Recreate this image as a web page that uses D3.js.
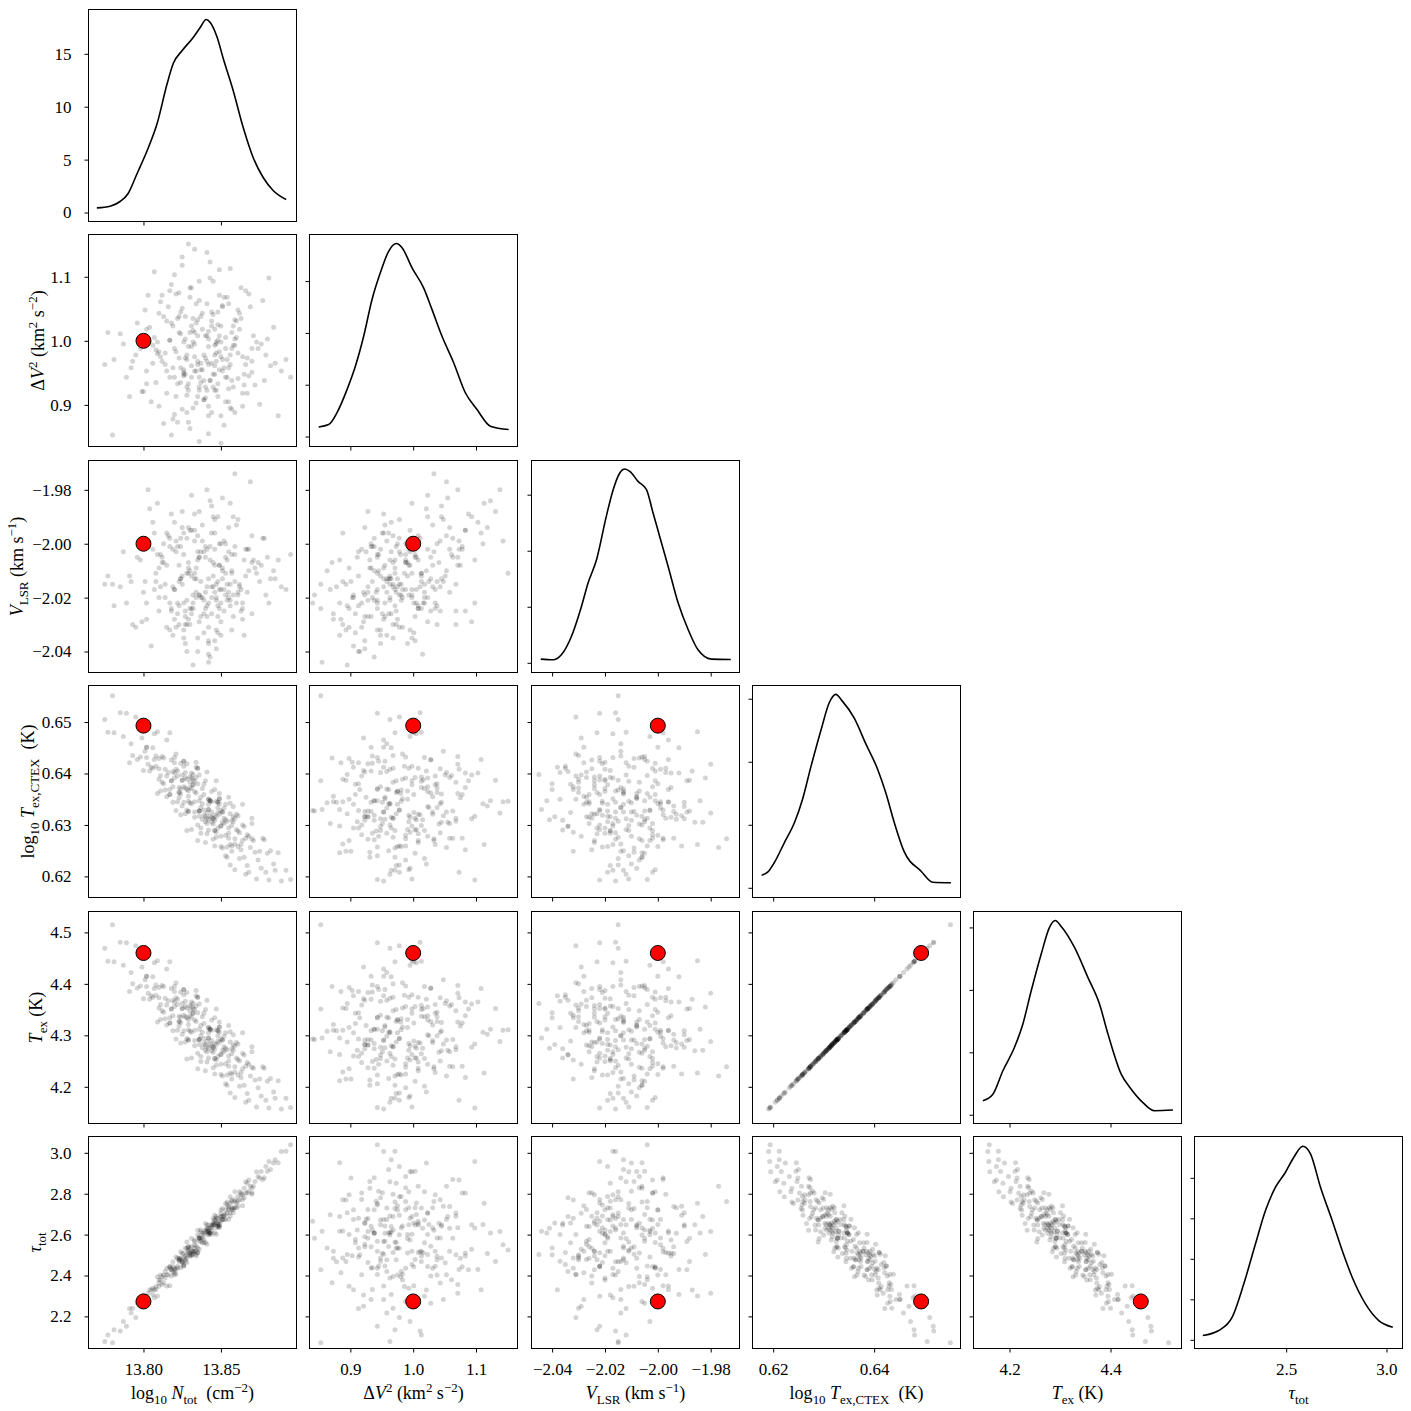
<!DOCTYPE html>
<html>
<head>
<meta charset="utf-8">
<script src="https://cdn.jsdelivr.net/npm/d3@7"></script>
<style>
  body { margin: 0; background: #fff; }
  svg text { font-family: "Liberation Serif", "DejaVu Serif", serif; fill: #000; white-space: pre; }
</style>
</head>
<body>
<svg id="chart" width="1411" height="1411"></svg>
<script>
// parameter order: log10 Ntot, dV^2, VLSR, log10 Tex, Tex, tau
const truths = [13.80, 1.0, -2.00, 0.6493, 4.46, 2.273];

const axisRanges = [
  [13.7645, 13.8988], [0.835, 1.166], [-2.0478, -1.9691],
  [0.6159, 0.6571], [4.1287, 4.5406], [2.0429, 3.0798]
];
const xTickValues = [[13.80, 13.85], [0.9, 1.0, 1.1], [-2.04, -2.02, -2.00, -1.98], [0.62, 0.64], [4.2, 4.4], [2.5, 3.0]];
const yTickValues = [null, [0.9, 1.0, 1.1], [-2.04, -2.02, -2.00, -1.98], [0.62, 0.63, 0.64, 0.65], [4.2, 4.3, 4.4, 4.5], [2.2, 2.4, 2.6, 2.8, 3.0]];
const tickFormats = [".2f", ".1f", ".2f", ".2f", ".1f", ".1f"];

// density axes of the diagonal panels
const densityRanges = [[-0.85, 19.19], [-0.386, 7.80], [-1.73, 36.1], [-3.08, 64.2], [-0.28, 6.51], [-0.107, 2.51]];
const densityTicks = [[0, 5, 10, 15], [0, 2, 4, 6], [0, 10, 20, 30], [0, 20, 40, 60], [0, 2, 4, 6], [0, 0.5, 1, 1.5, 2]];

// KDE curves: [value, density]
const kdeLogN = [[13.7699,0.44],[13.7785,0.60],[13.7849,1.04],[13.7901,1.80],[13.7959,3.69],[13.8024,5.86],[13.8088,8.41],[13.8153,12.19],[13.8192,14.08],[13.8250,15.31],[13.8321,16.54],[13.8366,17.49],[13.8405,18.24],[13.8431,17.96],[13.8476,16.54],[13.8515,14.56],[13.8579,11.53],[13.8644,8.03],[13.8708,5.20],[13.8773,3.31],[13.8837,2.08],[13.8921,1.23]];
const kdeDV2 = [[0.8496,0.37],[0.8655,0.46],[0.8788,0.92],[0.8947,1.81],[0.9080,2.71],[0.9212,3.87],[0.9345,5.29],[0.9477,6.32],[0.9609,7.15],[0.9732,7.45],[0.9823,7.29],[0.9982,6.51],[1.0166,5.74],[1.0300,4.90],[1.0459,3.87],[1.0644,2.85],[1.0830,1.69],[1.1016,1.04],[1.1228,0.40],[1.1519,0.27]];
const kdeVlsr = [[-2.0443,0.66],[-2.0396,0.54],[-2.0365,1.43],[-2.0327,4.70],[-2.0289,10.05],[-2.0264,14.23],[-2.0232,18.39],[-2.0195,26.13],[-2.0169,30.89],[-2.0144,33.88],[-2.0125,34.59],[-2.0106,34.16],[-2.0075,32.38],[-2.0043,30.89],[-2.0018,26.73],[-1.9993,22.55],[-1.9961,17.20],[-1.9923,10.66],[-1.9885,5.89],[-1.9848,2.32],[-1.9797,0.66],[-1.9724,0.59]];
const kdeLogTex = [[0.6177,4.0],[0.6189,4.95],[0.6202,7.94],[0.6222,14.29],[0.6242,20.63],[0.6258,28.03],[0.6275,38.60],[0.6295,50.25],[0.6311,58.73],[0.6324,61.37],[0.6337,59.24],[0.6360,53.97],[0.6384,45.49],[0.6407,37.56],[0.6423,30.16],[0.6440,20.63],[0.6459,11.62],[0.6493,5.27],[0.6516,1.78],[0.6552,1.59]];
const kdeTex = [[4.1473,0.45],[4.1671,0.66],[4.1869,1.41],[4.2099,2.16],[4.2265,2.91],[4.2430,3.97],[4.2628,5.15],[4.2792,6.00],[4.2905,6.22],[4.3024,6.03],[4.3287,5.36],[4.3552,4.40],[4.3782,3.55],[4.3949,2.59],[4.4212,1.30],[4.4410,0.82],[4.4642,0.39],[4.4871,0.13],[4.5236,0.15]];
const kdeTau = [[2.0842,0.053],[2.1640,0.115],[2.2308,0.279],[2.2886,0.691],[2.3470,1.185],[2.3968,1.596],[2.4467,1.884],[2.4965,2.069],[2.5379,2.254],[2.5828,2.390],[2.6211,2.296],[2.6710,1.884],[2.7293,1.473],[2.7792,1.102],[2.8290,0.773],[2.8953,0.444],[2.9616,0.238],[3.0314,0.156]];
const kdeCurves = [kdeLogN, kdeDV2, kdeVlsr, kdeLogTex, kdeTex, kdeTau];

// posterior samples estimated from the scatter panels: [logN, dV2, vlsr, logTex, Tex, tau]
const samples = [
  [13.842,0.963,-2.013,0.6340,4.305,2.608],[13.819,1.023,-2.002,0.6374,4.338,2.444],[13.864,0.918,-2.022,0.6300,4.265,2.772],
  [13.833,0.995,-1.995,0.6315,4.280,2.574],[13.849,1.071,-2.008,0.6361,4.326,2.634],[13.802,0.953,-2.028,0.6451,4.415,2.282],
  [13.857,0.988,-2.004,0.6259,4.225,2.762],[13.828,0.888,-2.030,0.6389,4.353,2.486],[13.838,1.043,-1.999,0.6341,4.306,2.583],
  [13.811,0.975,-2.016,0.6366,4.331,2.402],[13.871,1.008,-2.006,0.6270,4.236,2.837],[13.824,0.935,-2.001,0.6420,4.384,2.438],
  [13.845,1.093,-1.990,0.6312,4.277,2.648],[13.835,0.968,-2.035,0.6410,4.374,2.512],[13.853,0.943,-2.011,0.6240,4.206,2.752],
  [13.816,1.053,-1.997,0.6402,4.367,2.404],[13.879,0.978,-2.019,0.6208,4.174,2.933],[13.830,1.013,-2.024,0.6393,4.358,2.495],
  [13.840,0.911,-2.005,0.6306,4.271,2.623],[13.860,1.031,-1.993,0.6321,4.286,2.731],[13.792,0.958,-2.014,0.6458,4.422,2.216],
  [13.847,0.998,-2.020,0.6386,4.351,2.602],[13.822,0.873,-2.026,0.6345,4.310,2.484],[13.866,1.078,-2.002,0.6274,4.240,2.804],
  [13.836,0.928,-1.988,0.6327,4.292,2.582],[13.807,1.005,-2.017,0.6477,4.441,2.291],[13.851,0.971,-2.009,0.6255,4.221,2.728],
  [13.843,1.123,-1.984,0.6347,4.312,2.608],[13.826,0.948,-2.032,0.6374,4.339,2.485],[13.874,0.988,-2.007,0.6232,4.198,2.884],
  [13.813,1.038,-2.000,0.6380,4.345,2.403],[13.856,0.895,-2.023,0.6322,4.287,2.707],[13.831,0.991,-2.012,0.6291,4.256,2.581],
  [13.846,0.961,-1.996,0.6369,4.334,2.609],[13.799,0.921,-2.029,0.6469,4.433,2.250],[13.862,1.018,-2.015,0.6235,4.201,2.810],
  [13.820,1.103,-1.992,0.6401,4.365,2.429],[13.839,0.938,-2.021,0.6319,4.284,2.607],[13.809,0.980,-2.004,0.6361,4.326,2.394],
  [13.885,0.965,-2.013,0.6212,4.178,2.966],[13.834,1.058,-2.018,0.6392,4.357,2.519],[13.850,0.883,-2.034,0.6298,4.263,2.689],
  [13.817,1.001,-1.998,0.6479,4.443,2.350],[13.868,0.945,-2.010,0.6278,4.244,2.812],[13.827,0.973,-2.025,0.6322,4.287,2.533],
  [13.844,1.045,-1.986,0.6305,4.270,2.648],[13.785,1.011,-2.016,0.6518,4.481,2.128],[13.855,0.925,-2.003,0.6354,4.319,2.675],
  [13.823,1.075,-2.008,0.6353,4.318,2.484],[13.837,0.955,-2.027,0.6354,4.319,2.567],[13.859,0.993,-2.001,0.6213,4.179,2.809],
  [13.805,0.905,-2.038,0.6412,4.377,2.330],[13.848,1.025,-2.014,0.6334,4.299,2.649],[13.829,0.923,-1.994,0.6326,4.291,2.541],
  [13.877,1.063,-1.998,0.6274,4.239,2.870],[13.814,0.963,-2.020,0.6408,4.372,2.388],[13.841,1.138,-1.980,0.6323,4.288,2.615],
  [13.821,0.983,-2.031,0.6438,4.402,2.406],[13.865,0.931,-2.006,0.6237,4.203,2.827],[13.832,1.016,-2.022,0.6388,4.352,2.511],
  [13.852,0.868,-2.017,0.6303,4.268,2.697],[13.796,1.028,-2.005,0.6427,4.392,2.264],[13.846,0.978,-1.991,0.6259,4.225,2.695],
  [13.825,1.051,-2.012,0.6397,4.362,2.462],[13.870,0.951,-2.026,0.6303,4.268,2.805],[13.810,0.898,-2.009,0.6429,4.393,2.347],
  [13.842,1.003,-2.036,0.6290,4.256,2.647],[13.818,1.088,-1.989,0.6386,4.351,2.428],[13.861,0.941,-2.018,0.6288,4.253,2.763],
  [13.835,1.033,-2.003,0.6270,4.235,2.621],[13.781,0.971,-2.023,0.6479,4.443,2.134],[13.849,1.111,-2.000,0.6341,4.306,2.649],
  [13.828,0.915,-2.040,0.6369,4.334,2.502],[13.873,0.998,-2.011,0.6195,4.161,2.908],[13.815,0.953,-1.996,0.6465,4.429,2.349],
  [13.854,1.068,-2.015,0.6307,4.272,2.706],[13.836,0.843,-2.019,0.6327,4.292,2.582],[13.804,1.021,-1.987,0.6405,4.370,2.329],
  [13.864,0.975,-2.028,0.6340,4.305,2.741],[13.845,1.041,-2.007,0.6302,4.267,2.656],[13.822,0.933,-2.001,0.6405,4.370,2.437],
  [13.882,0.961,-2.013,0.6250,4.216,2.919],[13.831,1.083,-1.995,0.6401,4.365,2.495],[13.857,0.893,-2.032,0.6249,4.215,2.769],
  [13.808,0.986,-2.011,0.6414,4.378,2.346],[13.840,1.008,-2.024,0.6266,4.231,2.654],[13.826,0.945,-2.004,0.6424,4.389,2.446],
  [13.851,1.055,-1.983,0.6305,4.271,2.689],[13.793,0.968,-2.030,0.6435,4.400,2.240],[13.867,0.918,-2.002,0.6281,4.247,2.804],
  [13.833,1.143,-1.999,0.6345,4.310,2.550],[13.847,0.981,-2.021,0.6346,4.311,2.633],[13.819,0.878,-2.016,0.6344,4.309,2.467],
  [13.858,1.023,-1.990,0.6336,4.301,2.707],[13.801,1.048,-2.014,0.6443,4.408,2.282],[13.843,0.938,-2.042,0.6347,4.312,2.608],
  [13.876,0.995,-2.008,0.6216,4.182,2.909],[13.824,1.011,-1.998,0.6320,4.285,2.516],[13.853,0.905,-2.019,0.6340,4.305,2.674],
  [13.812,1.071,-2.005,0.6433,4.397,2.356],[13.838,0.955,-1.993,0.6311,4.276,2.607],[13.863,1.035,-2.017,0.6262,4.228,2.795],
  [13.789,0.943,-2.022,0.6517,4.480,2.152],[13.848,1.001,-2.033,0.6324,4.289,2.657],[13.830,0.863,-2.010,0.6343,4.308,2.534],
  [13.870,0.968,-1.997,0.6313,4.278,2.797],[13.817,1.078,-2.001,0.6359,4.324,2.443],[13.841,0.923,-2.027,0.6403,4.368,2.553],
  [13.798,0.988,-2.006,0.6432,4.396,2.273],[13.856,1.113,-1.985,0.6262,4.227,2.753],[13.827,0.948,-2.037,0.6402,4.366,2.470],
  [13.889,0.953,-2.016,0.6191,4.157,3.007],[13.834,1.028,-2.013,0.6362,4.327,2.543],[13.850,0.975,-2.000,0.6258,4.224,2.720],
  [13.810,1.043,-2.025,0.6409,4.373,2.363],[13.844,0.888,-1.996,0.6345,4.310,2.617],[13.860,1.005,-2.022,0.6291,4.256,2.755],
  [13.821,0.913,-2.003,0.6328,4.293,2.491],[13.836,1.093,-2.029,0.6397,4.361,2.528],[13.872,0.931,-2.009,0.6247,4.213,2.860],
  [13.806,0.965,-1.992,0.6450,4.414,2.307],[13.846,1.018,-2.018,0.6289,4.255,2.672],[13.832,0.895,-2.045,0.6398,4.362,2.503],
  [13.855,1.058,-1.994,0.6274,4.240,2.737],[13.814,0.981,-2.015,0.6368,4.332,2.419],[13.880,1.003,-2.005,0.6245,4.211,2.910],
  [13.837,0.935,-2.020,0.6284,4.249,2.622],[13.825,1.131,-1.988,0.6387,4.352,2.469],[13.865,0.948,-2.034,0.6297,4.262,2.780],
  [13.829,0.991,-2.007,0.6366,4.331,2.510],[13.777,1.013,-2.012,0.6480,4.444,2.109],[13.852,0.958,-1.999,0.6333,4.298,2.674],
  [13.823,1.038,-2.023,0.6363,4.327,2.477],[13.868,1.073,-2.002,0.6208,4.174,2.867],[13.839,0.908,-2.026,0.6359,4.323,2.576],
  [13.802,0.933,-2.000,0.6451,4.415,2.282],[13.849,0.983,-2.017,0.6351,4.316,2.642],[13.818,0.853,-2.024,0.6386,4.351,2.428],
  [13.861,1.048,-1.991,0.6318,4.283,2.739],[13.828,0.971,-2.011,0.6289,4.254,2.564],[13.843,1.098,-2.006,0.6317,4.283,2.632],
  [13.795,0.978,-2.031,0.6510,4.474,2.194],[13.875,0.901,-2.014,0.6249,4.215,2.877],[13.831,1.023,-1.982,0.6391,4.355,2.503],
  [13.854,0.943,-2.021,0.6257,4.223,2.745],[13.811,1.061,-2.004,0.6396,4.360,2.379],[13.847,0.923,-2.039,0.6316,4.282,2.657],
  [13.835,1.008,-1.997,0.6410,4.374,2.512],[13.866,0.963,-2.012,0.6204,4.170,2.858],[13.820,0.885,-2.028,0.6421,4.385,2.413],
  [13.858,0.993,-2.019,0.6306,4.271,2.731],[13.833,0.953,-1.989,0.6325,4.290,2.566],[13.807,1.108,-1.996,0.6427,4.391,2.330],
  [13.845,0.928,-2.016,0.6272,4.237,2.679],[13.884,1.021,-2.010,0.6224,4.190,2.950],[13.826,0.998,-2.035,0.6414,4.379,2.454],
  [13.850,0.840,-2.022,0.6328,4.293,2.665],[13.815,1.031,-2.008,0.6355,4.320,2.435],[13.840,0.973,-2.001,0.6386,4.350,2.561],
  [13.863,1.083,-2.025,0.6252,4.218,2.803],[13.800,0.921,-2.018,0.6406,4.371,2.305],[13.848,1.045,-1.990,0.6344,4.309,2.641],
  [13.824,0.958,-2.013,0.6370,4.335,2.477],[13.878,0.938,-1.998,0.6271,4.236,2.878],[13.830,1.068,-2.030,0.6383,4.348,2.502],
  [13.856,0.978,-2.015,0.6222,4.188,2.785],[13.813,0.871,-2.007,0.6430,4.395,2.364],[13.842,1.015,-2.041,0.6310,4.275,2.631],
  [13.787,0.995,-2.003,0.6472,4.436,2.175],[13.869,1.053,-1.977,0.6256,4.221,2.836],[13.834,0.903,-2.020,0.6422,4.387,2.496],
  [13.853,1.005,-2.005,0.6310,4.275,2.698],[13.817,0.943,-2.032,0.6369,4.334,2.435],[13.892,0.971,-2.017,0.6212,4.178,3.008],
  [13.825,1.118,-1.994,0.6337,4.302,2.508],[13.844,0.965,-2.026,0.6315,4.280,2.640],[13.809,0.998,-1.985,0.6481,4.445,2.300],
  [13.859,0.888,-2.014,0.6263,4.229,2.770],[13.822,1.035,-2.022,0.6395,4.360,2.445],[13.846,0.948,-2.002,0.6289,4.255,2.672],
  [13.775,0.963,-2.015,0.6505,4.469,2.077],[13.780,0.853,-2.015,0.6551,4.515,2.071],[13.895,0.943,-2.004,0.6194,4.160,3.040],
  [13.829,1.151,-2.011,0.6346,4.311,2.525],[13.842,0.855,-2.044,0.6330,4.295,2.616],[13.859,1.033,-1.974,0.6273,4.239,2.762],
  [13.791,0.913,-2.012,0.6421,4.385,2.239],[13.881,1.098,-2.022,0.6193,4.159,2.957],[13.803,1.071,-1.980,0.6418,4.382,2.313],
  [13.887,0.883,-2.006,0.6246,4.212,2.951],[13.841,0.968,-2.016,0.6313,4.278,2.623],[13.831,0.943,-2.024,0.6371,4.335,2.518],
  [13.846,0.993,-2.008,0.6319,4.284,2.648],[13.836,0.923,-2.019,0.6317,4.282,2.590],[13.851,0.953,-2.013,0.6325,4.291,2.674],
  [13.827,1.003,-2.027,0.6392,4.356,2.478],[13.839,0.978,-2.003,0.6329,4.294,2.599],[13.848,0.913,-2.023,0.6294,4.259,2.680],
  [13.833,1.013,-2.011,0.6385,4.350,2.519],[13.855,0.958,-2.018,0.6284,4.250,2.730],[13.823,0.973,-2.030,0.6363,4.327,2.477],
  [13.844,1.023,-2.020,0.6365,4.330,2.601],[13.829,0.933,-2.009,0.6326,4.291,2.541],[13.849,1.008,-2.024,0.6321,4.286,2.665],
  [13.835,0.963,-2.006,0.6300,4.265,2.598],[13.842,0.898,-2.031,0.6350,4.315,2.600],[13.820,0.988,-2.017,0.6391,4.356,2.436],
  [13.857,0.938,-2.010,0.6309,4.274,2.722],[13.837,1.038,-2.014,0.6334,4.299,2.583],[13.826,0.955,-2.022,0.6424,4.389,2.446],
  [13.832,0.998,-2.019,0.6378,4.343,2.519],[13.845,0.948,-2.012,0.6312,4.277,2.648],[13.818,1.028,-2.025,0.6426,4.391,2.397],
  [13.853,0.988,-2.000,0.6280,4.245,2.721],[13.839,0.908,-2.033,0.6379,4.343,2.560],[13.812,0.968,-2.007,0.6383,4.348,2.395],
  [13.862,1.043,-2.016,0.6285,4.250,2.771],[13.828,0.978,-1.998,0.6329,4.294,2.533],[13.848,0.933,-2.027,0.6344,4.309,2.641],
  [13.836,1.063,-2.005,0.6327,4.292,2.582],[13.856,0.963,-2.021,0.6342,4.307,2.691],[13.823,1.013,-2.014,0.6373,4.337,2.469],
  [13.842,0.883,-2.022,0.6330,4.295,2.616],[13.806,0.993,-2.002,0.6410,4.374,2.338],[13.850,1.023,-2.029,0.6278,4.244,2.704],
  [13.834,0.953,-2.009,0.6412,4.377,2.504],[13.867,0.973,-2.018,0.6221,4.187,2.851],[13.830,1.083,-1.995,0.6373,4.338,2.510],
  [13.846,0.923,-2.036,0.6309,4.274,2.656],[13.820,0.943,-2.017,0.6431,4.395,2.405],[13.841,1.008,-2.023,0.6283,4.248,2.647],
  [13.825,0.893,-2.015,0.6387,4.352,2.469],[13.859,1.003,-2.004,0.6313,4.279,2.731],[13.831,0.961,-2.026,0.6341,4.306,2.542],
  [13.851,1.053,-2.010,0.6325,4.291,2.674],[13.815,0.918,-2.031,0.6395,4.359,2.404],[13.838,1.018,-2.020,0.6371,4.336,2.560],
  [13.854,0.971,-2.006,0.6237,4.203,2.760],[13.827,1.038,-2.030,0.6372,4.336,2.494],[13.843,0.938,-2.001,0.6347,4.312,2.608],
  [13.810,0.983,-2.020,0.6389,4.353,2.378],[13.864,0.898,-2.024,0.6270,4.235,2.795],[13.833,0.975,-2.013,0.6365,4.330,2.535],
  [13.847,0.995,-2.032,0.6286,4.252,2.680],[13.821,1.073,-1.999,0.6408,4.373,2.429],[13.840,0.928,-2.018,0.6316,4.281,2.615],
  [13.857,1.013,-2.011,0.6299,4.264,2.730],[13.829,0.873,-2.028,0.6356,4.321,2.518],[13.849,0.955,-2.008,0.6351,4.316,2.642],
  [13.817,1.001,-2.022,0.6359,4.324,2.443],[13.844,1.031,-2.016,0.6325,4.290,2.632],[13.835,0.913,-2.040,0.6380,4.344,2.535],
  [13.861,0.981,-2.019,0.6258,4.223,2.786],[13.824,1.045,-2.013,0.6360,4.325,2.485],[13.837,0.965,-2.003,0.6294,4.259,2.614],
  [13.852,1.068,-2.025,0.6313,4.278,2.690],[13.808,0.935,-2.014,0.6434,4.398,2.331],[13.842,0.991,-2.037,0.6350,4.315,2.600],
  [13.826,0.951,-1.996,0.6344,4.309,2.509],[13.855,0.905,-2.020,0.6294,4.260,2.722],[13.832,1.035,-2.024,0.6378,4.343,2.519],
  [13.847,0.968,-2.015,0.6276,4.242,2.688],[13.802,1.018,-2.022,0.6431,4.395,2.298],[13.870,0.988,-2.007,0.6273,4.238,2.829],
  [13.828,0.928,-2.021,0.6419,4.383,2.463],[13.841,1.058,-2.002,0.6303,4.268,2.631],[13.819,0.958,-2.034,0.6404,4.368,2.420],
  [13.850,0.998,-2.017,0.6298,4.263,2.689],[13.836,0.943,-2.005,0.6347,4.312,2.567],[13.858,0.928,-2.027,0.6316,4.281,2.723]
];

// axis labels as rich-text pieces
const axisLabels = [
  [{t: "log"}, {t: "10", sub: 1}, {t: " "}, {t: "N", it: 1}, {t: "tot", sub: 1}, {t: "  (cm"}, {t: "−2", sup: 1}, {t: ")"}],
  [{t: "Δ"}, {t: "V", it: 1}, {t: "2", sup: 1}, {t: " (km"}, {t: "2", sup: 1}, {t: " s"}, {t: "−2", sup: 1}, {t: ")"}],
  [{t: "V", it: 1}, {t: "LSR", sub: 1}, {t: " (km s"}, {t: "−1", sup: 1}, {t: ")"}],
  [{t: "log"}, {t: "10", sub: 1}, {t: " "}, {t: "T", it: 1}, {t: "ex,CTEX", sub: 1}, {t: "  (K)"}],
  [{t: "T", it: 1}, {t: "ex", sub: 1}, {t: " (K)"}],
  [{t: "τ", it: 1}, {t: "tot", sub: 1}]
];
const yLabelBaseX = [null, 44, 23, 34, 42, 41];

const svg = d3.select("#chart");
const left0 = 88.3, top0 = 9, stepX = 221.1, stepY = 225.4, pw = 208, ph = 212;
const fs = 17;      // tick labels
const labelFs = 18; // axis labels

function richText(text, segs) {
  let cur = 0;
  segs.forEach(s => {
    const shift = s.sub ? 0.26 * labelFs : s.sup ? -0.38 * labelFs : 0;
    text.append("tspan")
      .attr("dy", shift - cur)
      .attr("font-size", s.sub || s.sup ? labelFs * 0.72 : labelFs)
      .attr("font-style", s.it ? "italic" : null)
      .text(s.t);
    cur = shift;
  });
}

function styleAxis(g) {
  g.attr("font-size", null).attr("font-family", null);
  g.select(".domain").remove();
  g.selectAll(".tick line").attr("stroke", "#000").attr("stroke-width", 1);
  g.selectAll(".tick text").attr("font-size", fs);
}

for (let i = 0; i < 6; i++) {
  for (let j = 0; j <= i; j++) {
    const px = Math.round(left0 + j * stepX) + 0.5;
    const py = Math.round(top0 + i * stepY) + 0.5;
    const g = svg.append("g").attr("transform", `translate(${px},${py})`);
    const diag = i === j;
    const x = d3.scaleLinear().domain(axisRanges[j]).range([0, pw]);
    const y = d3.scaleLinear().domain(diag ? densityRanges[i] : axisRanges[i]).range([ph, 0]);

    const clipId = `clip-${i}-${j}`;
    g.append("clipPath").attr("id", clipId)
      .append("rect").attr("width", pw).attr("height", ph);
    const plot = g.append("g").attr("clip-path", `url(#${clipId})`);

    if (diag) {
      plot.append("path")
        .datum(kdeCurves[i])
        .attr("fill", "none")
        .attr("stroke", "#000")
        .attr("stroke-width", 1.6)
        .attr("d", d3.line().x(d => x(d[0])).y(d => y(d[1])).curve(d3.curveMonotoneX));
    } else {
      plot.selectAll("circle")
        .data(samples)
        .join("circle")
        .attr("cx", d => x(d[j]))
        .attr("cy", d => y(d[i]))
        .attr("r", 2.5)
        .attr("fill", "#000")
        .attr("fill-opacity", 0.17);
      g.append("circle")
        .attr("cx", x(truths[j]))
        .attr("cy", y(truths[i]))
        .attr("r", 7.5)
        .attr("fill", "#ff0000")
        .attr("stroke", "#000")
        .attr("stroke-width", 1);
    }

    // bottom axis: labels only on the last row
    const xAxis = d3.axisBottom(x)
      .tickValues(xTickValues[j])
      .tickSize(4)
      .tickPadding(10)
      .tickFormat(i === 5 ? d3.format(tickFormats[j]) : () => "");
    g.append("g").attr("transform", `translate(0,${ph})`).call(xAxis).call(styleAxis);

    // left axis: labels only in the first column
    let yFmt = () => "";
    if (j === 0) yFmt = diag ? d3.format("d") : d3.format(tickFormats[i]);
    const yAxis = d3.axisLeft(y)
      .tickValues(diag ? densityTicks[i] : yTickValues[i])
      .tickSize(4)
      .tickPadding(13)
      .tickFormat(yFmt);
    g.append("g").call(yAxis).call(styleAxis);

    g.append("rect")
      .attr("width", pw)
      .attr("height", ph)
      .attr("fill", "none")
      .attr("stroke", "#000")
      .attr("stroke-width", 1);

    if (i === 5) {
      const t = svg.append("text")
        .attr("x", px + pw / 2)
        .attr("y", 1399)
        .attr("text-anchor", "middle")
        .attr("font-size", labelFs);
      richText(t, axisLabels[j]);
    }
    if (j === 0 && i > 0) {
      const t = svg.append("text")
        .attr("transform", `translate(${yLabelBaseX[i]},${py + ph / 2}) rotate(-90)`)
        .attr("text-anchor", "middle")
        .attr("font-size", labelFs);
      richText(t, axisLabels[i]);
    }
  }
}
</script>
</body>
</html>
